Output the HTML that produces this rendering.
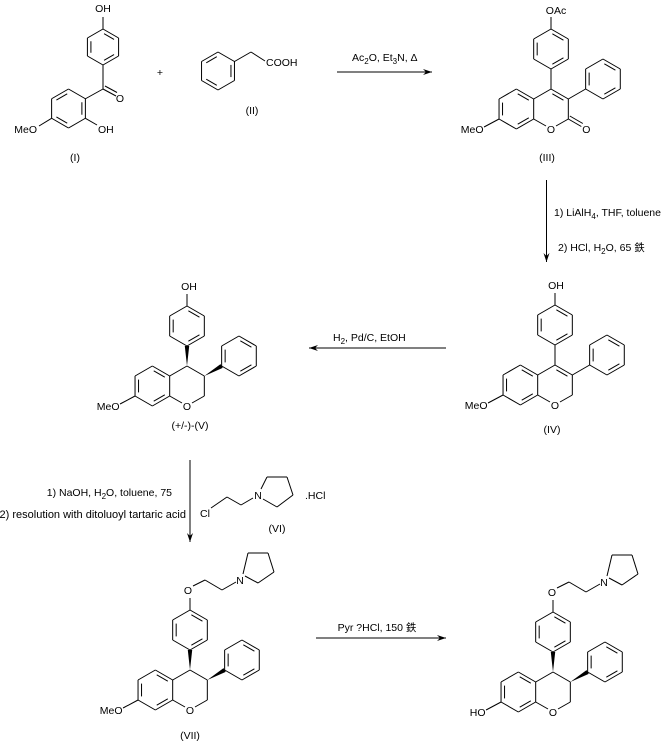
<!DOCTYPE html>
<html><head><meta charset="utf-8"><style>
html,body{margin:0;padding:0;background:#fff;}
svg{display:block;}
text{font-family:"Liberation Sans","Noto Sans CJK SC",sans-serif;font-size:10.5px;fill:#000;}
</style></head><body>
<svg id="s" width="664" height="743" xmlns="http://www.w3.org/2000/svg"></svg>
<script>
const S=document.getElementById('s');let out='';
function L(a,b,c,d){out+=`<line x1="${a}" y1="${b}" x2="${c}" y2="${d}" stroke="#000" stroke-width="1"/>`;}
function T(x,y,s,anc){out+=`<text x="${x}" y="${y+4}" text-anchor="${anc||'middle'}">${s}</text>`;}
function P(pts){out+=`<polygon points="${pts.map(p=>p.join(',')).join(' ')}" fill="#000"/>`;}
function inner(p,q,c){const k=0.18,o=3.5;let mx=(p[0]+q[0])/2,my=(p[1]+q[1])/2;let vx=c[0]-mx,vy=c[1]-my,l=Math.hypot(vx,vy);vx=vx/l*o;vy=vy/l*o;
 L(p[0]+(q[0]-p[0])*k+vx,p[1]+(q[1]-p[1])*k+vy,q[0]+(p[0]-q[0])*k+vx,q[1]+(p[1]-q[1])*k+vy);}
function ring(cx,cy,r,dbl){let v=[];for(let i=0;i<6;i++){let a=(-90+60*i)*Math.PI/180;v.push([cx+r*Math.cos(a),cy+r*Math.sin(a)]);}
 for(let i=0;i<6;i++){L(v[i][0],v[i][1],v[(i+1)%6][0],v[(i+1)%6][1]);if(dbl.includes(i))inner(v[i],v[(i+1)%6],[cx,cy]);}return v;}
function W(x1,y1,x2,y2){let dx=x2-x1,dy=y2-y1,l=Math.hypot(dx,dy),nx=-dy/l*2.2,ny=dx/l*2.2;P([[x1,y1],[x2+nx,y2+ny],[x2-nx,y2-ny]]);}
function arrow(x1,y1,x2,y2){L(x1,y1,x2,y2);let dx=x2-x1,dy=y2-y1,l=Math.hypot(dx,dy),ux=dx/l,uy=dy/l;
 P([[x2,y2],[x2-ux*9-uy*3,y2-uy*9+ux*3],[x2-ux*6,y2-uy*6],[x2-ux*9+uy*3,y2-uy*9-ux*3]]);}
const b=20,dx=17.32,dy=10;
function chroman(x,y,o){
 const C3=[x+dx,y+dy],C2=[x+dx,y+dy+b],O1=[x,y+2*b],C8a=[x-dx,y+dy+b],C4a=[x-dx,y+dy];
 L(x,y,C3[0],C3[1]);L(C4a[0],C4a[1],x,y);
 if(o.dbl34)inner([x,y],C3,[x,y+b]);
 L(C3[0],C3[1],C2[0],C2[1]);
 L(C2[0],C2[1],O1[0]+5,O1[1]-3);L(C8a[0],C8a[1],O1[0]-5,O1[1]-3);T(O1[0],O1[1],'O');
 ring(x-2*dx,y+b,b,[0,2,4]);
 const C7=[x-3*dx,y+dy+b];L(C7[0],C7[1],C7[0]-15,C7[1]+8);T(C7[0]-15.5,C7[1]+10,o.sub7,'end');
 if(o.c2o){L(C2[0],C2[1],C2[0]+13,C2[1]+7.5);L(C2[0]+1.5,C2[1]-3,C2[0]+14.5,C2[1]+4.5);T(C2[0]+18,C2[1]+10,'O');}
 if(o.stereo)W(x,y,x,y-b);else L(x,y,x,y-b);
 ring(x,y-2*b,b,[0,2,4]);
 L(x,y-3*b,x,y-3*b-12);
 const A=[C3[0]+dx,C3[1]-dy];if(o.stereo)W(C3[0],C3[1],A[0],A[1]);else L(C3[0],C3[1],A[0],A[1]);
 ring(A[0]+dx,A[1]-dy,b,[0,2,4]);
}
function chain(x,y){
 T(x,y,'O');L(x+5,y-4,x+17,y-10);L(x+17,y-10,x+34,y);L(x+34,y,x+48,y-8);T(x+52,y-10,'N');
 const n=[x+52,y-10];L(n[0]+3,n[1]-6,n[0]+8,n[1]-27);L(n[0]+8,n[1]-27,n[0]+28,n[1]-27);L(n[0]+28,n[1]-27,n[0]+34,n[1]-8);
 L(n[0]+34,n[1]-8,n[0]+18,n[1]+3);L(n[0]+18,n[1]+3,n[0]+5,n[1]-4);
}
ring(103,47,18,[0,2,4]);L(103,29,103,17);T(103,8,'OH');
L(103,65,103,89);L(103,89,85,99);L(103,89,116,96);L(105,86,117,92.5);T(120,98,'O');
ring(68.5,108.5,19.5,[1,3,5]);L(85.4,118.3,97,125);T(98,129,'OH','start');L(51.6,118.3,39,126);T(37,129,'MeO','end');
T(75,157,'(I)');
T(160,72,'+');
ring(218,71,19,[1,3,5]);L(234.5,61.5,251,52);L(251,52,265,61);T(266,62,'COOH','start');T(252,110,'(II)');
arrow(337,72,432,72);
out+=`<text x="352" y="61">Ac<tspan style="font-size:8px" dy="3">2</tspan><tspan dy="-3">O, Et</tspan><tspan style="font-size:8px" dy="3">3</tspan><tspan dy="-3">N, Δ</tspan></text>`;
chroman(551,89,{sub7:'MeO',dbl34:true,c2o:true});T(556,10,'OAc');T(547,157,'(III)');
arrow(546.5,180,546.5,262);
out+=`<text x="554" y="216" style="font-size:10.5px">1) LiAlH<tspan style="font-size:8px" dy="3">4</tspan><tspan dy="-3">, THF, toluene</tspan></text>`;
out+=`<text x="558" y="251" style="font-size:10.5px">2) HCl, H<tspan style="font-size:8px" dy="3">2</tspan><tspan dy="-3">O, 65 鉄</tspan></text>`;
chroman(555,365,{sub7:'MeO',dbl34:true});T(556,285,'OH');T(552,429,'(IV)');
arrow(446,348,309,348);
out+=`<text x="333" y="341">H<tspan style="font-size:8px" dy="3">2</tspan><tspan dy="-3">, Pd/C, EtOH</tspan></text>`;
chroman(187,366,{sub7:'MeO',stereo:true});T(189,286,'OH');T(190,425,'(+/-)-(V)');
arrow(190,460,190,542);
out+=`<text x="172" y="496" text-anchor="end">1) NaOH, H<tspan style="font-size:8px" dy="3">2</tspan><tspan dy="-3">O, toluene, 75</tspan></text>`;
out+=`<text x="186" y="518" text-anchor="end" style="font-size:11px">2) resolution with ditoluoyl tartaric acid</text>`;
T(205,513,'Cl');L(211,508,227,497);L(227,497,241,505);L(241,505,253,498);T(258,495,'N');
L(261,489,267,477);L(267,477,287,477);L(287,477,293,495);L(293,495,277,507);L(277,507,263,499);
T(305,495,'.HCl','start');T(277,528,'(VI)');
chroman(190,670,{sub7:'MeO',stereo:true});chain(188,590);T(190,735,'(VII)');
arrow(316,638,446,638);T(377,627,'Pyr ?HCl, 150 鉄');
chroman(553,672,{sub7:'HO',stereo:true});chain(552,592);
S.innerHTML=out;
</script>
</body></html>
